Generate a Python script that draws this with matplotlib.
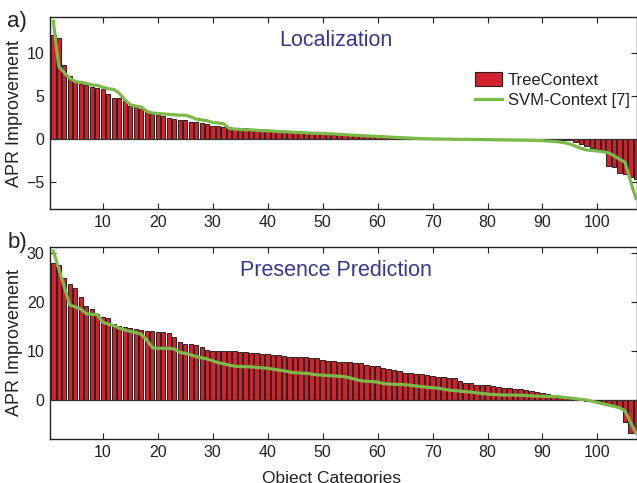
"""APR improvement per object category: TreeContext bars vs SVM-Context line."""

import matplotlib
matplotlib.use("Agg")
import matplotlib.pyplot as plt
import numpy as np
from matplotlib.lines import Line2D
from matplotlib.patches import Patch

plt.rcParams["font.family"] = ["Liberation Sans", "DejaVu Sans"]

# --- data ---
tree_loc = [
    12.05, 11.7, 8.57, 7.4, 6.6, 6.4, 6.3, 6.05, 5.95, 5.85,
    5.2, 4.85, 4.75, 4.4, 3.9, 3.7, 3.5, 3.2, 2.95, 2.85,
    2.75, 2.45, 2.35, 2.2, 2.2, 2.05, 2.0, 1.85, 1.75, 1.55,
    1.55, 1.45, 1.4, 1.35, 1.3, 1.3, 1.25, 1.2, 1.15, 1.1,
    1.05, 1.0, 0.95, 0.9, 0.85, 0.8, 0.75, 0.72, 0.7, 0.65,
    0.6, 0.55, 0.52, 0.5, 0.5, 0.48, 0.45, 0.42, 0.4, 0.35,
    0.32, 0.3, 0.27, 0.24, 0.2, 0.18, 0.15, 0.12, 0.1, 0.08,
    0.06, 0.05, 0.04, 0.03, 0.02, 0.02, 0.01, 0.01, 0.01, 0.0,
    0.0, 0.0, 0.0, -0.01, -0.01, -0.01, -0.02, -0.02, -0.03, -0.03,
    -0.04, -0.05, -0.06, -0.08, -0.12, -0.3, -0.55, -0.8, -1.05, -1.15,
    -1.25, -3.1, -3.25, -3.95, -4.07, -4.35, -4.65,
]
svm_loc = [
    13.7, 8.45, 7.7, 7.1, 6.7, 6.6, 6.5, 6.3, 6.25, 6.05,
    5.85, 5.8, 5.35, 4.6, 4.0, 3.85, 3.75, 3.25, 3.05, 3.0,
    2.95, 2.9, 2.85, 2.8, 2.8, 2.6, 2.35, 2.25, 2.15, 1.95,
    1.9, 1.8, 1.25, 1.2, 1.15, 1.1, 1.1, 1.05, 1.0, 1.0,
    0.95, 0.9, 0.88, 0.85, 0.8, 0.78, 0.75, 0.72, 0.7, 0.68,
    0.65, 0.62, 0.58, 0.55, 0.5, 0.47, 0.43, 0.4, 0.37, 0.33,
    0.3, 0.27, 0.23, 0.2, 0.17, 0.14, 0.11, 0.08, 0.06, 0.05,
    0.04, 0.03, 0.02, 0.01, 0.0, 0.0, -0.01, -0.02, -0.03, -0.04,
    -0.05, -0.06, -0.07, -0.08, -0.09, -0.1, -0.11, -0.12, -0.14, -0.16,
    -0.2, -0.25, -0.3, -0.4, -0.55, -0.8, -1.05, -1.24, -1.3, -1.35,
    -1.45, -1.55, -1.9, -2.3, -2.65, -4.8, -6.86,
]
tree_pres = [
    28.0, 27.5, 24.9, 23.7, 22.8, 21.1, 19.1, 18.6, 17.5, 16.9,
    16.7, 15.6, 15.2, 15.0, 14.65, 14.5, 14.25, 14.1, 14.0, 13.85,
    13.85, 13.6, 12.95, 11.9, 11.5, 11.4, 11.25, 10.75, 10.3, 10.05,
    10.0, 10.0, 10.0, 10.0, 9.75, 9.7, 9.55, 9.55, 9.4, 9.35,
    9.2, 9.13, 9.0, 8.86, 8.73, 8.73, 8.7, 8.66, 8.5, 8.2,
    8.05, 7.9, 7.85, 7.8, 7.7, 7.63, 7.5, 7.15, 6.95, 6.9,
    6.5, 6.27, 6.13, 6.0, 5.5, 5.45, 5.4, 5.35, 5.1, 4.95,
    4.77, 4.75, 4.57, 4.43, 3.95, 3.54, 3.4, 3.07, 3.05, 3.0,
    2.86, 2.6, 2.45, 2.4, 2.25, 2.2, 2.05, 1.9, 1.7, 1.5,
    1.23, 0.95, 0.7, 0.55, 0.35, 0.15, 0.0, -0.15, -0.27, -0.4,
    -0.55, -0.8, -1.1, -1.36, -4.6, -6.7, -6.8,
]
svm_pres = [
    30.4, 26.8, 23.1, 19.4, 19.0, 18.6, 17.6, 17.5, 17.4, 15.9,
    15.5, 15.2, 14.65, 14.3, 14.0, 13.8, 13.4, 12.3, 10.7, 10.55,
    10.55, 10.55, 10.4, 9.75, 9.5, 9.2, 8.85, 8.6, 8.35, 8.0,
    7.6, 7.4, 7.1, 6.9, 6.8, 6.8, 6.75, 6.65, 6.55, 6.45,
    6.3, 6.1, 5.95, 5.7, 5.55, 5.5, 5.45, 5.3, 5.1, 5.05,
    5.0, 4.9, 4.85, 4.75, 4.5, 4.2, 3.9, 3.8, 3.75, 3.65,
    3.35, 3.25, 3.2, 3.15, 3.1, 3.0, 2.85, 2.7, 2.6, 2.5,
    2.4, 2.2, 2.0, 1.9, 1.8, 1.7, 1.6, 1.45, 1.3, 1.2,
    1.1, 1.05, 1.0, 1.0, 0.98, 0.95, 0.9, 0.82, 0.78, 0.75,
    0.72, 0.7, 0.65, 0.5, 0.4, 0.25, 0.1, 0.0, -0.27, -0.55,
    -0.8, -1.05, -1.3, -1.6, -2.2, -4.5, -6.8,
]
categories = np.arange(1, len(tree_loc) + 1)

panels = [
    ("a)", "Localization", tree_loc, svm_loc, (-8.1, 14.2), [-5, 0, 5, 10]),
    ("b)", "Presence Prediction", tree_pres, svm_pres, (-8.0, 31.3), [0, 10, 20, 30]),
]

BAR_RED = "#d2222b"
BAR_EDGE = "#2e1f1f"
SVM_GREEN = "#7cb949"
TITLE_BLUE = "#353893"
INK = "#222222"

fig = plt.figure(figsize=(6.37, 4.83), dpi=100)
axes = [
    fig.add_axes([0.0785, 0.567, 0.9215, 0.398]),
    fig.add_axes([0.0785, 0.091, 0.9215, 0.398]),
]

for ax, (tag, title, tree, svm, ylim, yticks) in zip(axes, panels):
    ax.bar(categories, tree, width=0.8, color=BAR_RED, edgecolor=BAR_EDGE,
           linewidth=0.7, zorder=2)
    ax.axhline(0, color="#333333", linewidth=0.9, zorder=3)
    ax.plot(categories, svm, color=SVM_GREEN, linewidth=2.3, zorder=4,
            solid_joinstyle="round")

    ax.set_xlim(0.4, 107.2)
    ax.set_ylim(*ylim)
    ax.set_xticks(range(10, 101, 10))
    ax.set_yticks(yticks)
    ax.tick_params(direction="in", top=True, right=True, length=4,
                   width=0.8, labelsize=11.5, colors=INK, pad=4)
    for sp in ax.spines.values():
        sp.set_color(INK)
        sp.set_linewidth(1.0)

    ax.set_ylabel("APR Improvement", fontsize=13, color=INK)
    ax.yaxis.set_label_coords(-0.046, 0.5)
    ax.text(0.487, 0.875, title, transform=ax.transAxes, ha="center",
            va="center", fontsize=15.5, color=TITLE_BLUE)
    ax.text(-0.056, 0.975 if tag == "a)" else 1.02, tag, transform=ax.transAxes,
            ha="center", va="center", fontsize=16, color=INK)

axes[1].set_xlabel("Object Categories", fontsize=12.5, color=INK)
axes[1].xaxis.set_label_coords(0.48, -0.165)

handles = [
    Patch(facecolor=BAR_RED, edgecolor=BAR_EDGE, linewidth=0.8, label="TreeContext"),
    Line2D([], [], color=SVM_GREEN, linewidth=2.3, label="SVM-Context [7]"),
]
axes[0].legend(handles=handles, loc="upper left", bbox_to_anchor=(0.71, 0.755),
               frameon=False, fontsize=12, borderpad=0, handlelength=1.6,
               handleheight=0.9, handletextpad=0.35, labelspacing=0.25,
               labelcolor=INK)

fig.savefig("out.png", dpi=100)
